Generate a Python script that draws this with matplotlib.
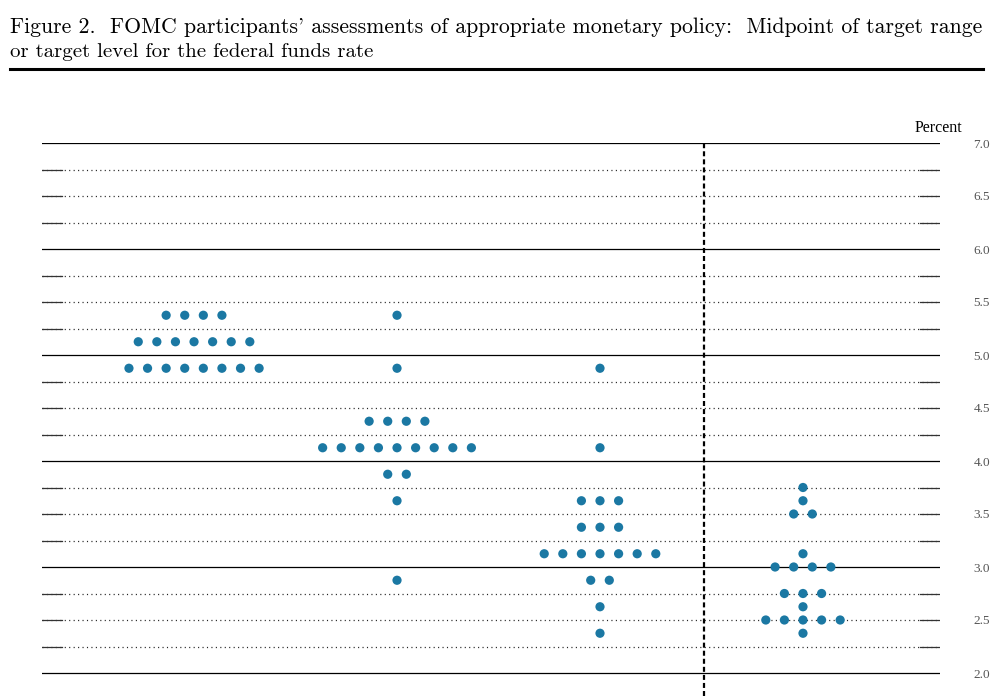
import numpy as np
import matplotlib
matplotlib.use("Agg")
import matplotlib.pyplot as plt
from matplotlib.lines import Line2D

plt.rcParams['lines.scale_dashes'] = False

# projections: midpoint rate -> number of participants, per column
columns = ["2024", "2025", "2026", "Longer run"]
rates_2024 = [5.375, 5.125, 4.875]
counts_2024 = [4, 7, 8]
rates_2025 = [5.375, 4.875, 4.375, 4.125, 3.875, 3.625, 2.875]
counts_2025 = [1, 1, 4, 9, 2, 1, 1]
rates_2026 = [4.875, 4.125, 3.625, 3.375, 3.125, 2.875, 2.625, 2.375]
counts_2026 = [1, 1, 3, 3, 7, 2, 1, 1]
rates_lr = [3.75, 3.625, 3.5, 3.125, 3.0, 2.75, 2.625, 2.5, 2.375]
counts_lr = [1, 1, 2, 1, 4, 3, 1, 5, 1]

yticks = [2.0, 2.5, 3.0, 3.5, 4.0, 4.5, 5.0, 5.5, 6.0, 6.5, 7.0]
grid_levels = np.arange(2.0, 7.01, 0.25)

dot_color = "#1b78a3"
spacing = 0.0916

fig = plt.figure(figsize=(10.04, 6.96), dpi=100)

# title
title_1 = "Figure 2.  FOMC participants' assessments of appropriate monetary policy:  Midpoint of target range"
title_2 = "or target level for the federal funds rate"
tfont = ['cmr10', 'DejaVu Serif']
t1 = fig.text(10 / 1004, 1 - 33 / 696, title_1, family=tfont, fontsize=15, va='baseline', ha='left')
fig.text(10 / 1004, 1 - 57 / 696, title_2, family=tfont, fontsize=15, va='baseline', ha='left')
# stretch line 1 to the justified width of the reference
fig.canvas.draw()
w = t1.get_window_extent().width
if w > 0:
    t1.set_fontsize(15 * min(1.05, 973 / w))
fig.add_artist(Line2D([10 / 1004, 983 / 1004], [1 - 69 / 696, 1 - 69 / 696],
                      color='black', lw=2.2, transform=fig.transFigure))

ax = fig.add_axes([42 / 1004, 0, 898 / 1004, (696 - 143) / 696])
ax.set_xlim(-0.749, 3.675)
ax.set_ylim(2.0 - 23 / 106, 7.0)

for s in ax.spines.values():
    s.set_visible(False)

ytr = ax.get_yaxis_transform()
for lev in grid_levels:
    if abs(lev - round(lev)) < 1e-9:
        ax.axhline(lev, color='black', lw=0.9, zorder=1)
    else:
        ax.axhline(lev, color='#222222', lw=0.9, ls=(0, (0.8, 2.4)), zorder=1)
        ax.plot([0, 0.0223], [lev, lev], color='#333333', lw=0.9, transform=ytr, zorder=1)
        ax.plot([0.978, 1], [lev, lev], color='#333333', lw=0.9, transform=ytr, zorder=1)

ax.axvline(2.51, color='black', lw=1.6, ls=(0, (3.6, 2.2)), zorder=2)

all_rates = [rates_2024, rates_2025, rates_2026, rates_lr]
all_counts = [counts_2024, counts_2025, counts_2026, counts_lr]
for ci, (rates, counts) in enumerate(zip(all_rates, all_counts)):
    for r, n in zip(rates, counts):
        xs = ci + (np.arange(n) - (n - 1) / 2) * spacing
        ax.scatter(xs, [r] * n, s=44, color=dot_color, edgecolors='none', zorder=3)

ax.set_xticks([])
ax.yaxis.tick_right()
ax.set_yticks(yticks)
ax.set_yticklabels([f"{v:.1f}" for v in yticks], family=['Liberation Serif', 'DejaVu Serif'],
                   fontsize=9.5, color='#555555')
ax.tick_params(axis='y', length=0, pad=24)

ax.text(-2 / 898 + 1.0, 7.0 + 15 / 106, "Percent", transform=ytr, ha='center', va='center',
        family=['Liberation Serif', 'DejaVu Serif'], fontsize=11.5)

fig.savefig("out.png", dpi=100)
